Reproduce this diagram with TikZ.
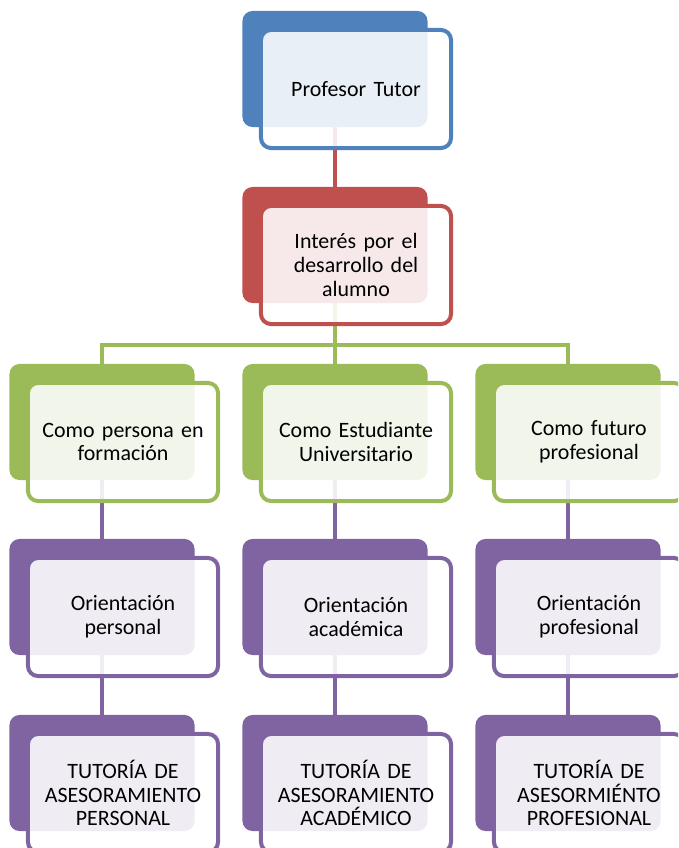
\documentclass[tikz,border=0pt]{standalone}
\usepackage{fontspec}
\setmainfont{Carlito}
\usetikzlibrary{backgrounds}

\definecolor{tblue}{HTML}{4F81BD}
\definecolor{tred}{HTML}{C0504D}
\definecolor{tgreen}{HTML}{9BBB59}
\definecolor{tpurple}{HTML}{8064A2}
\newcommand{\tutfont}{\fontsize{15.6pt}{16.8pt}\selectfont\spaceskip=0.2em\relax}

\tikzset{
  backbox/.style={fill=#1, rounded corners=0.25cm, inner sep=0pt,
    minimum width=4.625cm, minimum height=2.9cm},
  frontbox/.style={draw=#1, line width=0.1cm, fill=white, fill opacity=0.88,
    text opacity=1, rounded corners=0.25cm, inner sep=0pt,
    minimum width=4.75cm, minimum height=2.95cm,
    text width=4.4cm, align=center, font=\tutfont},
  link/.style={draw=#1, line width=0.1cm},
}

\begin{document}
\begin{tikzpicture}[x=0.025cm, y=-0.025cm]
  \clip (0,0) rectangle (678,848);
  % cabecera
  \node[backbox=tblue] (prof-b) at (335,69) {};
  \node[backbox=tred] (int-b) at (335,245) {};
  \coordinate (bus) at (335,345);
  \foreach \a/\b/\c [count=\i from 0] in {
      {Como persona en\\formación}/{Orientación\\personal}/{TUTORÍA DE\\ASESORAMIENTO\\PERSONAL},
      {Como Estudiante\\Universitario}/{Orientación\\académica}/{TUTORÍA DE\\ASESORAMIENTO\\ACADÉMICO},
      {Como futuro\\profesional}/{Orientación\\profesional}/{TUTORÍA DE\\ASESORMIÉNTO\\PROFESIONAL}}{
    \node[backbox=tgreen] (como\i-b) at (102+233*\i, 422) {};
    \node[backbox=tpurple] (ori\i-b) at (102+233*\i, 597) {};
    \node[backbox=tpurple] (tut\i-b) at (102+233*\i, 773) {};
    \begin{pgfonlayer}{background}
      \draw[link=tgreen] (como\i-b.north |- bus) -- (como\i-b.north);
      \draw[link=tpurple] (como\i-b) -- (ori\i-b);
      \draw[link=tpurple] (ori\i-b) -- (tut\i-b);
    \end{pgfonlayer}
    \node[frontbox=tgreen] (como\i) at ([shift={(21,20)}]como\i-b) {\a};
    \node[frontbox=tpurple] (ori\i) at ([shift={(21,20)}]ori\i-b) {\b};
    \node[frontbox=tpurple] (tut\i) at ([shift={(21,20)}]tut\i-b) {\c};
  }
  \begin{pgfonlayer}{background}
    \draw[link=tred] (prof-b) -- (int-b);
    \draw[link=tgreen] (int-b) -- (bus);
    \draw[link=tgreen] (como0-b.north) |- (bus) -| (como2-b.north);
  \end{pgfonlayer}
  \node[frontbox=tblue] (prof) at ([shift={(21,20)}]prof-b) {Profesor Tutor};
  \node[frontbox=tred] (int) at ([shift={(21,20)}]int-b) {Interés por el\\desarrollo del\\alumno};
\end{tikzpicture}
\end{document}
